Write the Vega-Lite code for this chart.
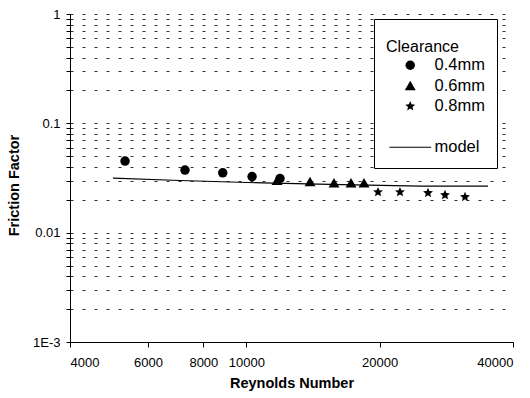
{
  "$schema": "https://vega.github.io/schema/vega-lite/v6.json",
  "width": 443,
  "height": 328,
  "autosize": {"type": "none"},
  "padding": {"left": 70, "top": 14, "right": 17, "bottom": 56},
  "background": "white",
  "config": {"view": {"stroke": null}, "font": "Liberation Sans"},
  "datasets": {
    "points": [
      {"Re": 5325, "f": 0.0452, "series": "0.4mm"},
      {"Re": 7272, "f": 0.0374, "series": "0.4mm"},
      {"Re": 8848, "f": 0.0353, "series": "0.4mm"},
      {"Re": 10305, "f": 0.0326, "series": "0.4mm"},
      {"Re": 11915, "f": 0.0313, "series": "0.4mm"},
      {"Re": 11733, "f": 0.0300, "series": "0.6mm"},
      {"Re": 13928, "f": 0.0292, "series": "0.6mm"},
      {"Re": 15775, "f": 0.0285, "series": "0.6mm"},
      {"Re": 17235, "f": 0.0285, "series": "0.6mm"},
      {"Re": 18439, "f": 0.0285, "series": "0.6mm"},
      {"Re": 19832, "f": 0.0235, "series": "0.8mm"},
      {"Re": 22229, "f": 0.0235, "series": "0.8mm"},
      {"Re": 25718, "f": 0.0231, "series": "0.8mm"},
      {"Re": 28092, "f": 0.0221, "series": "0.8mm"},
      {"Re": 31166, "f": 0.0212, "series": "0.8mm"}
    ],
    "model": [
      {"Re": 5002, "f": 0.0316},
      {"Re": 7084, "f": 0.0300},
      {"Re": 10912, "f": 0.0285},
      {"Re": 15452, "f": 0.0276},
      {"Re": 24665, "f": 0.0267},
      {"Re": 35120, "f": 0.0267}
    ]
  },
  "layer": [
    {
      "data": {"name": "model"},
      "mark": {"type": "line", "color": "black", "strokeWidth": 1.2},
      "encoding": {
        "x": {
          "field": "Re", "type": "quantitative",
          "scale": {"type": "log", "domain": [4000, 40000], "nice": false},
          "axis": {
            "values": [4000, 6000, 8000, 10000, 20000, 40000],
            "format": "d",
            "grid": false,
            "tickSize": 5,
            "tickColor": "black",
            "domainColor": "black",
            "labelPadding": 9,
            "labelFontSize": 13,
            "labelColor": "black",
            "labelOverlap": false,
            "title": "Reynolds Number",
            "titleFontSize": 14.5,
            "titleFontWeight": "bold",
            "titleColor": "black",
            "titleY": 41,
            "titleBaseline": "middle"
          }
        },
        "y": {
          "field": "f", "type": "quantitative",
          "scale": {"type": "log", "domain": [0.001, 1], "nice": false},
          "axis": {
            "values": [0.001, 0.002, 0.003, 0.004, 0.005, 0.006, 0.007, 0.008, 0.009, 0.01, 0.02, 0.03, 0.04, 0.05, 0.06, 0.07, 0.08, 0.09, 0.1, 0.2, 0.3, 0.4, 0.5, 0.6, 0.7, 0.8, 0.9, 1],
            "labelExpr": "datum.value == 1 ? '1' : datum.value == 0.1 ? '0.1' : datum.value == 0.01 ? '0.01' : datum.value == 0.001 ? '1E-3' : ''",
            "labelOverlap": false,
            "grid": true,
            "gridDash": [3, 9],
            "gridColor": "#333333",
            "gridWidth": 1,
            "tickSize": 4,
            "tickColor": "black",
            "domainColor": "black",
            "labelPadding": 6,
            "labelFontSize": 13,
            "labelColor": "black",
            "title": "Friction Factor",
            "titleFontSize": 14.5,
            "titleFontWeight": "bold",
            "titleColor": "black",
            "titleX": -56,
            "titleY": 171,
            "titleAngle": -90,
            "titleAlign": "center",
            "titleBaseline": "middle"
          }
        }
      }
    },
    {
      "data": {"name": "points"},
      "mark": {"type": "point", "filled": true, "color": "black", "size": 90, "opacity": 1, "strokeWidth": 0},
      "encoding": {
        "x": {"field": "Re", "type": "quantitative", "scale": {"type": "log", "domain": [4000, 40000], "nice": false}},
        "y": {"field": "f", "type": "quantitative", "scale": {"type": "log", "domain": [0.001, 1], "nice": false}},
        "shape": {
          "field": "series", "type": "nominal",
          "scale": {
            "domain": ["0.4mm", "0.6mm", "0.8mm", " ", "model"],
            "range": ["circle", "M0,-1.05L1.15,0.95L-1.15,0.95Z", "M0,-1.1L0.291,-0.4L1.046,-0.34L0.47,0.153L0.647,0.89L0,0.5L-0.647,0.89L-0.47,0.153L-1.046,-0.34L-0.291,-0.4Z", "M0,0", "M-4.4,-0.11L4.4,-0.11L4.4,0.11L-4.4,0.11Z"]
          },
          "legend": {
            "title": ["", "Clearance"],
            "titleLineHeight": 8,
            "orient": "none",
            "legendX": 304,
            "legendY": 5,
            "strokeColor": "black",
            "fillColor": "white",
            "padding": 12,
            "titleFontSize": 16,
            "titleFontWeight": "normal",
            "titleColor": "black",
            "titlePadding": 2,
            "labelFontSize": 16.5,
            "labelColor": "black",
            "symbolSize": 90,
            "symbolOffset": 16,
            "labelOffset": 16,
            "rowPadding": 3.5,
            "symbolFillColor": "black",
            "symbolStrokeWidth": 0,
            "symbolOpacity": 1
          }
        }
      }
    }
  ]
}
